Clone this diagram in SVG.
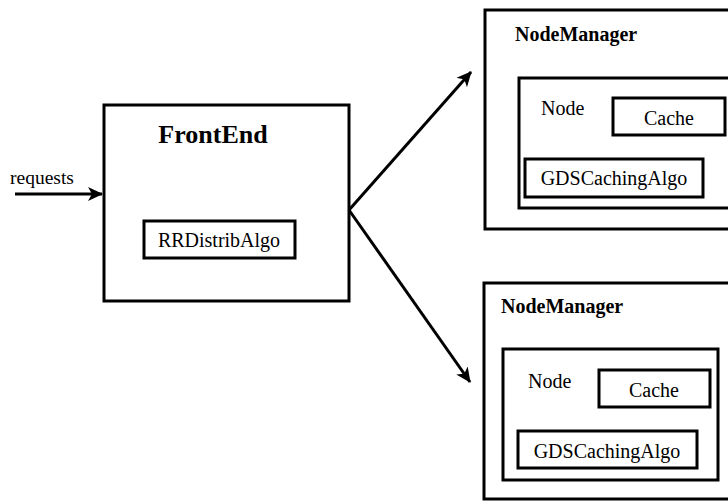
<svg xmlns="http://www.w3.org/2000/svg" width="728" height="502" viewBox="0 0 728 502">
<defs>
<style>
.box{fill:#fff;stroke:#000;stroke-width:3}
.t{font-family:"Liberation Serif","Times New Roman",serif;fill:#000}
.b{font-weight:bold}
.c{stroke:#000;stroke-width:3;fill:none}
</style>
<marker id="ah" markerWidth="16" markerHeight="16" refX="14" refY="8" orient="auto" markerUnits="userSpaceOnUse">
<polygon points="0,1 15,8 0,15 4,8" fill="#000"/>
</marker>
</defs>
<rect width="728" height="502" fill="#fff"/>
<g id="frontend">
<rect class="box" x="104" y="105" width="245" height="196"/>
<text class="t b" x="213" y="143" font-size="26" text-anchor="middle">FrontEnd</text>
<g id="rrdistrib">
<rect class="box" x="144" y="221" width="151" height="37"/>
<text class="t" x="219" y="247" font-size="20" text-anchor="middle">RRDistribAlgo</text>
</g>
</g>
<g id="nodemanager1">
<rect class="box" x="485" y="10" width="260" height="219"/>
<text class="t b" x="515" y="41" font-size="20">NodeManager</text>
<g id="node1">
<rect class="box" x="519" y="78" width="230" height="130"/>
<text class="t" x="541" y="115" font-size="20">Node</text>
<g id="cache1">
<rect class="box" x="613" y="98" width="112" height="37"/>
<text class="t" x="669" y="125" font-size="20" text-anchor="middle">Cache</text>
</g>
<g id="gds1">
<rect class="box" x="525" y="159" width="178" height="38"/>
<text class="t" x="614" y="185" font-size="20" text-anchor="middle">GDSCachingAlgo</text>
</g>
</g>
</g>
<g id="nodemanager2">
<rect class="box" x="484" y="283" width="260" height="216"/>
<text class="t b" x="501" y="313" font-size="20">NodeManager</text>
<g id="node2">
<rect class="box" x="503" y="349" width="215" height="131"/>
<text class="t" x="528" y="388" font-size="20">Node</text>
<g id="cache2">
<rect class="box" x="599" y="370" width="111" height="37"/>
<text class="t" x="654" y="397" font-size="20" text-anchor="middle">Cache</text>
</g>
<g id="gds2">
<rect class="box" x="518" y="431" width="179" height="37"/>
<text class="t" x="607" y="458" font-size="20" text-anchor="middle">GDSCachingAlgo</text>
</g>
</g>
</g>
<g id="connectors">
<line class="c" x1="15" y1="194" x2="102" y2="194" marker-end="url(#ah)"/>
<text class="t" x="10" y="184" font-size="19.5">requests</text>
<line class="c" x1="349" y1="210" x2="471" y2="72" marker-end="url(#ah)"/>
<line class="c" x1="349" y1="210" x2="470" y2="382" marker-end="url(#ah)"/>
</g>
</svg>
